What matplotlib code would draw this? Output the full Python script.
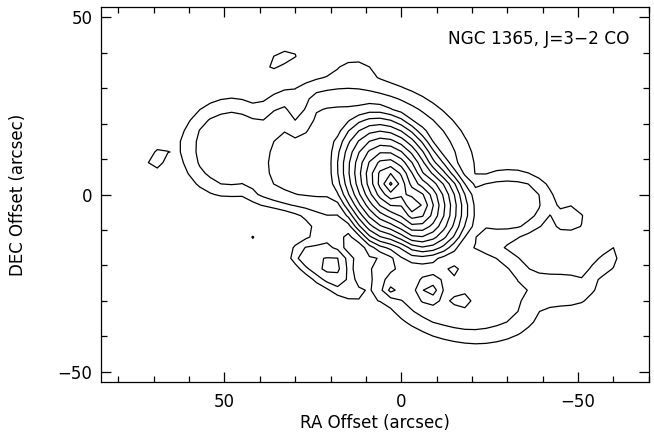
import numpy as np
import matplotlib
matplotlib.use("Agg")
import matplotlib.pyplot as plt

# --- data (arcsec offsets, intensity in contour units) ---
# NOTE: the intensity field is an approximate model built from simple shapes
# sized by eye to reproduce the reference contour outlines, not measured data.
# flat-topped plateau components (combined by maximum):
# upper body, west body, east lobe, south body, south-west strip, west shelf,
# west spur, south-west shelf, west finger
plat_x   = [14.0, -10.0, 48.0, -16.0, 17.0, -29.0, -47.0, -42.0, -57.0]
plat_y   = [7.5, -5.0, 13.0, -26.0, -20.0, -3.0, -7.0, -27.0, -20.0]
plat_amp = [3.4, 3.4, 2.3, 2.4, 2.4, 2.3, 1.3, 2.0, 1.4]
plat_sa  = [30.0, 13.0, 13.0, 22.0, 16.0, 13.0, 5.0, 12.0, 7.0]
plat_sb  = [22.0, 13.0, 13.0, 14.0, 7.0, 9.0, 4.5, 4.5, 3.0]
plat_pa  = [5.0, 20.0, 0.0, 15.0, 33.0, -8.0, 0.0, 0.0, -45.0]

# nucleus: two cone-shaped peaks (combined by maximum)
cone_x   = [2.8, -3.5]
cone_y   = [3.2, -2.7]
cone_amp = [11.0, 10.0]
cone_ra  = [23.0, 18.0]
cone_rb  = [16.5, 16.0]
cone_pa  = [65.0, 65.0]

# added gaussian features: north hump, east island, north island, small knot,
# south-west knots, southern knots, notch, channel and level-2 dent (negative)
gau_x   = [13.0, 69.0, 33.5, 42.0, 28.0, 20.0, 15.0, -8.0, -17.0, 2.5, -14.5, 39.0, 12.5, 29.0]
gau_y   = [36.0, 10.0, 38.5, -12.0, -18.0, -20.0, -18.0, -27.0, -30.0, -26.5, -22.0, -9.0, -19.0, 23.0]
gau_amp = [1.1, 1.6, 1.4, 3.5, 0.9, 0.9, 0.9, 2.3, 1.2, 1.8, 1.1, -3.2, -2.6, -1.3]
gau_sa  = [4.5, 4.0, 6.0, 1.2, 2.5, 3.5, 2.0, 2.3, 2.2, 1.5, 2.0, 13.0, 8.0, 2.0]
gau_sb  = [2.5, 2.0, 2.2, 1.2, 2.0, 2.5, 3.0, 2.5, 2.0, 1.5, 1.5, 4.0, 2.5, 4.0]
gau_pa  = [0.0, -50.0, -28.0, 0.0, 0.0, 0.0, 60.0, 0.0, 0.0, 0.0, 0.0, -5.0, 70.0, 0.0]

levels = [1, 2, 3, 4, 5, 6, 7, 8, 9, 10, 11, 12, 13, 14]

map_x = np.arange(-63, 76, 3.0)
map_y = np.arange(-48, 49, 3.0)
X, Y = np.meshgrid(map_x, map_y)


def radius(x0, y0, sa, sb, pa):
    t = np.deg2rad(pa)
    dx, dy = X - x0, Y - y0
    u = dx * np.cos(t) + dy * np.sin(t)
    v = -dx * np.sin(t) + dy * np.cos(t)
    return np.sqrt((u / sa) ** 2 + (v / sb) ** 2)


base = np.zeros_like(X)
for x0, y0, a, sa, sb, pa in zip(plat_x, plat_y, plat_amp, plat_sa, plat_sb, plat_pa):
    base = np.maximum(base, a * np.exp(-0.5 * radius(x0, y0, sa, sb, pa) ** 6))

nuc = np.zeros_like(X)
for x0, y0, a, ra, rb, pa in zip(cone_x, cone_y, cone_amp, cone_ra, cone_rb, cone_pa):
    nuc = np.maximum(nuc, a * np.clip(1.0 - radius(x0, y0, ra, rb, pa), 0, None))

Z = base + nuc
for x0, y0, a, sa, sb, pa in zip(gau_x, gau_y, gau_amp, gau_sa, gau_sb, gau_pa):
    Z += a * np.exp(-0.5 * radius(x0, y0, sa, sb, pa) ** 2)

fig = plt.figure(figsize=(6.54, 4.33), dpi=100)
ax = fig.add_axes([0.154, 0.117, 0.838, 0.8675])
ax.contour(X, Y, Z, levels=levels, colors="black", linewidths=0.9)

ax.set_xlim(85, -70)
ax.set_ylim(-53, 53)
ax.set_xticks([50, 0, -50])
ax.set_yticks([-50, 0, 50])
ax.set_xticks(np.arange(80, -71, -10), minor=True)
ax.set_yticks(np.arange(-50, 51, 10), minor=True)
ax.set_xticklabels(["50", "0", "\u221250"])
ax.set_yticklabels(["\u221250", "0", "50"])
ax.tick_params(which="both", direction="in", top=True, right=True, labelsize=12)
ax.tick_params(axis="x", which="major", pad=8)
ax.tick_params(axis="y", which="major", pad=6)
ax.tick_params(which="major", length=7, width=0.9)
ax.tick_params(which="minor", length=4, width=0.9)
for s in ax.spines.values():
    s.set_linewidth(0.9)

ax.set_xlabel("RA Offset (arcsec)", fontsize=12, labelpad=2)
ax.set_ylabel("DEC Offset (arcsec)", fontsize=12, labelpad=22)
ax.text(0.633, 0.915, "NGC 1365, J=3\u22122 CO", transform=ax.transAxes,
        fontsize=12.2, ha="left", va="center")

fig.savefig("out.png", dpi=100)
